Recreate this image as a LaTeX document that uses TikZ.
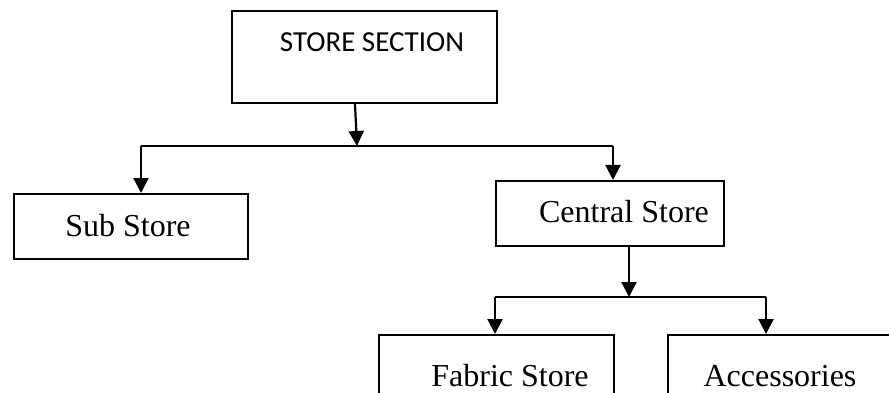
\documentclass[tikz,border=0pt]{standalone}
\usepackage{fontspec}
\setmainfont{Liberation Serif}
\newfontfamily\calfont{Carlito}
\usetikzlibrary{arrows.meta}
\begin{document}
\begin{tikzpicture}[x=1pt,y=-1pt,
  box/.style={draw=black,line width=2pt,inner sep=0pt,anchor=north west},
  lbl/.style={font=\fontsize{32}{36}\selectfont,inner sep=0pt},
  conn/.style={draw=black,line width=2.2pt},
  arr/.style={conn,-{Triangle[length=15pt,width=15pt]}}]
\useasboundingbox (0,0) rectangle (889,393);
\clip (0,0) rectangle (889,393);
% boxes
\node[box,minimum width=265pt,minimum height=92pt] (sec) at (231,10) {};
\node[box,minimum width=234pt,minimum height=65pt] (sub) at (13,193) {};
\node[box,minimum width=228pt,minimum height=65pt] (cen) at (495,180) {};
\node[box,minimum width=235pt,minimum height=80pt] (fab) at (378,334) {};
\node[box,minimum width=240pt,minimum height=80pt] (acc) at (667,334) {};
% texts
\node[inner sep=0pt,font=\calfont\fontsize{29}{34}\selectfont] (secT) at (372,42) {STORE SECTION};
\node[lbl] (subT) at (128,226) {Sub Store};
\node[lbl] (cenT) at (624,212) {Central Store};
\node[lbl] (fabT) at (510,376) {Fabric Store};
\node[lbl] (accT) at (780,376) {Accessories};
% connectors
\coordinate (j1) at (357,146);
\coordinate (l1) at (141,146);
\coordinate (r1) at (613,146);
\draw[arr] (sec.south -| 355,0) -- (j1);
\draw[conn] (l1) -- (r1);
\draw[arr] (l1) -- (l1 |- sub.north);
\draw[arr] (r1) -- (r1 |- cen.north);
\coordinate (j2) at (629,297);
\coordinate (l2) at (495,297);
\coordinate (r2) at (766,297);
\draw[arr] (cen.south -| j2) -- (j2);
\draw[conn] (l2) -- (r2);
\draw[arr] (l2) -- (l2 |- fab.north);
\draw[arr] (r2) -- (r2 |- acc.north);
\end{tikzpicture}
\end{document}
